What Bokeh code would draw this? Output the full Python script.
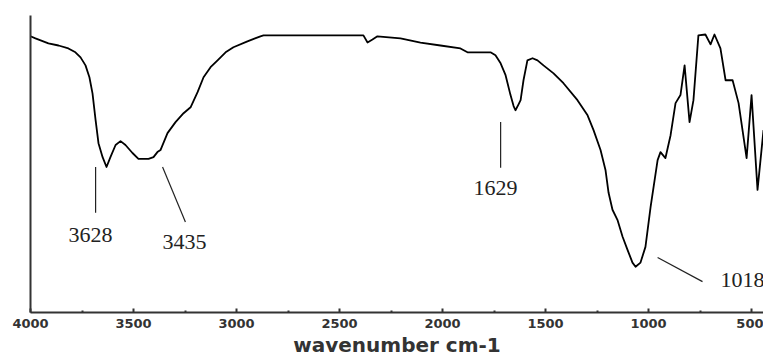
from bokeh.plotting import figure
from bokeh.models import Range1d, FixedTicker
from bokeh.core.properties import value
from bokeh.embed import file_html
from bokeh.resources import INLINE

# IR spectrum (wavenumber cm-1, transmittance %)
wavenumber = [4000, 3976, 3913, 3864, 3816, 3782, 3757, 3733, 3714, 3699, 3684, 3670,
              3650, 3631, 3612, 3587, 3563, 3539, 3505, 3476, 3427, 3403, 3384, 3369,
              3335, 3296, 3257, 3223, 3189, 3160, 3126, 3092, 3053, 3015, 2947, 2884,
              2869, 2384, 2364, 2340, 2316, 2204, 2107, 2010, 1913, 1879, 1767, 1743,
              1718, 1694, 1670, 1655, 1646, 1631, 1621, 1607, 1588, 1563, 1539, 1510,
              1461, 1413, 1345, 1296, 1267, 1233, 1209, 1194, 1175, 1151, 1126, 1102,
              1078, 1063, 1039, 1015, 990, 956, 942, 918, 893, 869, 845, 825, 801, 782,
              758, 724, 699, 680, 651, 626, 592, 563, 524, 500, 471, 442]
transmittance = [93.0, 92.3, 90.6, 89.9, 88.9, 87.6, 85.9, 83.2, 79.2, 73.8, 64.8, 57.0,
                 52.3, 49.0, 52.3, 56.4, 57.7, 56.4, 53.7, 51.7, 51.7, 52.3, 54.0, 54.7,
                 60.4, 64.1, 67.1, 69.1, 74.2, 79.2, 82.6, 84.9, 87.6, 89.3, 91.3, 93.0,
                 93.3, 93.3, 90.9, 91.9, 93.0, 92.3, 90.9, 89.9, 88.9, 87.6, 87.6, 86.6,
                 83.9, 79.9, 73.2, 69.5, 68.1, 70.1, 71.5, 78.2, 84.9, 85.6, 84.9, 83.2,
                 80.5, 77.2, 71.5, 66.4, 61.4, 54.7, 48.0, 40.3, 34.6, 31.2, 25.5, 21.1,
                 16.8, 15.4, 16.8, 22.1, 35.6, 51.3, 54.0, 52.0, 59.7, 70.5, 73.2, 83.2,
                 64.1, 71.5, 93.3, 93.6, 90.3, 93.6, 88.9, 78.2, 78.2, 70.5, 52.0, 73.2,
                 41.3, 61.4]

# peak annotations
peak_labels = ["3628", "3435", "1629", "1018"]
label_x = [3709, 3252, 1743, 651]
label_y = [26.2, 23.8, 41.9, 11.1]
label_align = ["center", "center", "center", "left"]
leader_x0 = [3684, 3359, 1718, 956]
leader_y0 = [49.0, 49.0, 64.1, 18.5]
leader_x1 = [3684, 3248, 1718, 738]
leader_y1 = [33.6, 30.5, 48.7, 10.4]

major_ticks = [4000, 3500, 3000, 2500, 2000, 1500, 1000, 500]
minor_ticks = [3750, 3250, 2750, 2250, 1750, 1250, 750]

p = figure(width=763, height=359, output_backend="svg", toolbar_location=None,
           x_range=Range1d(4000, 442), y_range=Range1d(0, 100),
           min_border_left=30, min_border_right=0, min_border_top=15, min_border_bottom=0)
p.outline_line_color = None
p.xgrid.visible = False
p.ygrid.visible = False
p.background_fill_color = "white"

p.line(wavenumber, transmittance, line_color="black", line_width=1.8,
       line_join="round")

p.segment(x0=leader_x0, y0=leader_y0, x1=leader_x1, y1=leader_y1,
          line_color="#222222", line_width=1.2)
p.text(x=label_x, y=label_y, text=peak_labels, text_align=label_align,
       text_baseline="middle", text_font=value("Liberation Serif"),
       text_font_size="22px", text_color="#222222")

xa = p.xaxis[0]
xa.ticker = FixedTicker(ticks=major_ticks, minor_ticks=minor_ticks)
xa.axis_line_width = 2
xa.axis_line_color = "#333333"
xa.major_tick_in = 4
xa.major_tick_out = 0
xa.major_tick_line_width = 2
xa.major_tick_line_color = "#333333"
xa.minor_tick_in = 2
xa.minor_tick_out = 0
xa.minor_tick_line_width = 2
xa.minor_tick_line_color = "#333333"
xa.major_label_text_font = "DejaVu Sans"
xa.major_label_text_font_style = "bold"
xa.major_label_text_font_size = "13px"
xa.major_label_text_color = "#333333"
xa.major_label_standoff = 6
xa.axis_label = "wavenumber cm-1"
xa.axis_label_text_font = "DejaVu Sans"
xa.axis_label_text_font_style = "bold"
xa.axis_label_text_font_size = "20px"
xa.axis_label_text_color = "#333333"
xa.axis_label_standoff = 2

ya = p.yaxis[0]
ya.ticker = FixedTicker(ticks=[])
ya.axis_line_width = 2
ya.axis_line_color = "#333333"
ya.major_tick_in = 0
ya.major_tick_out = 0
ya.minor_tick_in = 0
ya.minor_tick_out = 0

open("out.html", "w").write(file_html(p, INLINE))
